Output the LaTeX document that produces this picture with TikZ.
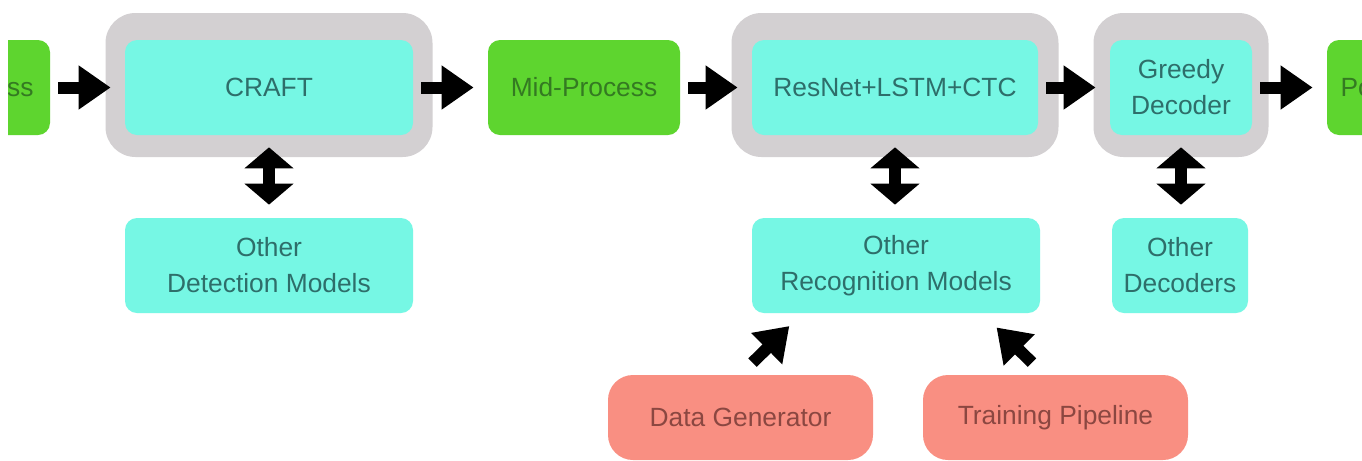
\documentclass[tikz,border=0pt]{standalone}
\usepackage{fontspec}
\setmainfont{Liberation Sans}
\usetikzlibrary{arrows.meta}
\definecolor{modelcyan}{HTML}{76F7E4}
\definecolor{modeltext}{HTML}{2E6E6A}
\definecolor{groupgray}{HTML}{D3D0D2}
\definecolor{procgreen}{HTML}{5ED52F}
\definecolor{proctext}{HTML}{347A22}
\definecolor{toolsalmon}{HTML}{F98F82}
\definecolor{tooltext}{HTML}{8B4741}

\begin{document}
\begin{tikzpicture}[
  box/.style={minimum height=1.9cm, inner sep=0pt, align=center,
              font=\fontsize{15}{20.5}\selectfont},
  procbox/.style={box, fill=procgreen, text=proctext, rounded corners=0.24cm},
  modelbox/.style={box, fill=modelcyan, text=modeltext, rounded corners=0.24cm},
  groupbox/.style={fill=groupgray, minimum height=2.88cm, rounded corners=0.6cm},
  toolbox/.style={box, fill=toolsalmon, text=tooltext, minimum height=1.7cm,
                  rounded corners=0.5cm},
  arr/.style={-{Triangle[length=0.64cm, width=0.84cm]}, line width=0.24cm},
  dblarr/.style={{Triangle[length=0.42cm, width=0.96cm]}-{Triangle[length=0.42cm, width=0.96cm]},
                 line width=0.24cm},
]
\useasboundingbox (0,0) rectangle (27.24,-9.2);
\fill[white] (0,0) rectangle (27.24,-9.2);
\clip (0,0) rectangle (27.24,-9.2);

% ---- Groups ----
\node[groupbox, minimum width=6.54cm] (craftbg)  at (5.38, -1.70) {};
\node[groupbox, minimum width=6.54cm] (recbg)    at (17.90, -1.70) {};
\node[groupbox, minimum width=3.5cm]  (greedybg) at (23.62, -1.70) {};

% ---- Pipeline ----
\begin{scope}
  \clip (0.16,0) rectangle (27.24,-9.2);
  \node[procbox, minimum width=3.56cm] (pre) at (-0.78, -1.75) {Pre-Process};
\end{scope}
\node[modelbox, minimum width=5.76cm] (craft) at (5.38, -1.75) {CRAFT};
\node[procbox, minimum width=3.84cm] (mid) at (11.68, -1.75) {Mid-Process};
\node[modelbox, minimum width=5.72cm] (rec) at (17.90, -1.75) {ResNet+LSTM+CTC};
\node[modelbox, minimum width=2.84cm] (greedy) at (23.62, -1.75) {Greedy\\Decoder};
\node[procbox, minimum width=3.68cm] (post) at (28.38, -1.75) {Post-Process};

\draw[arr, shorten <=0.16cm, shorten >=0.28cm] (pre) -- (craft);
\draw[arr, shorten <=0.16cm, shorten >=0.28cm] (craft) -- (mid);
\draw[arr, shorten <=0.16cm, shorten >=0.28cm] (mid) -- (rec);
\draw[arr, shorten <=0.16cm, shorten >=0.28cm] (rec) -- (greedy);
\draw[arr, shorten <=0.16cm, shorten >=0.28cm] (greedy) -- (post);

% ---- Alternatives ----
\node[modelbox, minimum width=5.76cm] (det) at (5.38, -5.31)
  {Other\\Detection Models};
\node[modelbox, minimum width=5.76cm] (orec) at (17.92, -5.31)
  {Other\\Recognition Models};
\node[modelbox, minimum width=2.72cm] (odec) at (23.6, -5.31)
  {Other\\Decoders};

\draw[dblarr, shorten <=-0.2cm, shorten >=0.26cm] (craftbg.south) -- (craftbg.south |- det.north);
\draw[dblarr, shorten <=-0.2cm, shorten >=0.26cm] (recbg.south) -- (recbg.south |- orec.north);
\draw[dblarr, shorten <=-0.2cm, shorten >=0.26cm] (greedybg.south) -- (greedybg.south |- odec.north);

% ---- Tools ----
\node[toolbox, minimum width=5.3cm] (datagen) at (14.81, -8.35) {Data Generator};
\node[toolbox, minimum width=5.3cm] (train) at (21.11, -8.35) {Training Pipeline};

\draw[arr, shorten <=0.34cm, shorten >=0.36cm] (datagen.north) -- (orec.207);
\draw[arr, shorten <=0.34cm, shorten >=0.40cm] (train.105) -- (orec.-29);

\end{tikzpicture}
\end{document}
